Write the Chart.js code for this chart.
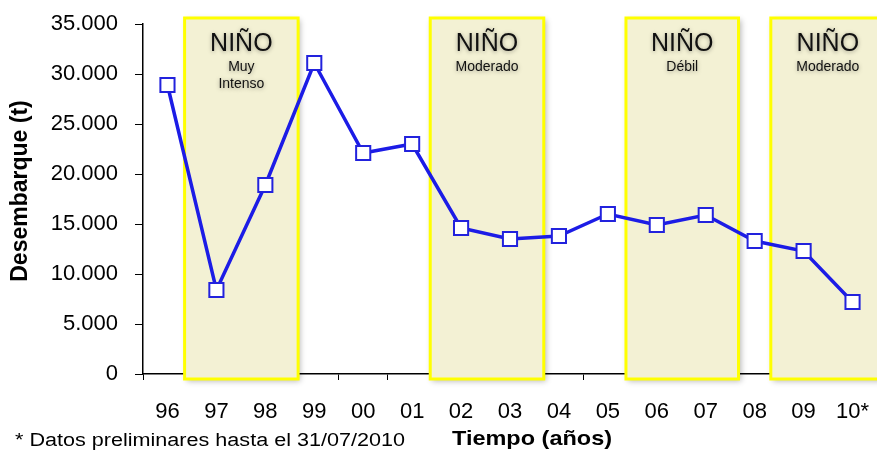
<!DOCTYPE html>
<html>
<head>
<meta charset="utf-8">
<script src="https://cdn.jsdelivr.net/npm/chart.js@4/dist/chart.umd.min.js"></script>
<style>
  html, body { margin: 0; padding: 0; background: #fff; }
  #chart { display: block; }
</style>
</head>
<body>
<canvas id="chart" width="877" height="454"></canvas>
<script>
// años (eje x) y desembarque en toneladas
const years = ['96', '97', '98', '99', '00', '01', '02', '03', '04', '05', '06', '07', '08', '09', '10*'];
const landings = [28900, 8400, 18900, 31100, 22100, 23000, 14600, 13500, 13800, 16000, 14900, 15900, 13300, 12300, 7200];
const yTicks = [0, 5000, 10000, 15000, 20000, 25000, 30000, 35000];

// periodos El Niño (en posiciones de categoria)
const ninoStart = [0.35, 5.37, 9.37, 12.33];
const ninoEnd = [2.67, 7.69, 11.67, 14.66];
const ninoTitle = ['NIÑO', 'NIÑO', 'NIÑO', 'NIÑO'];
const ninoSub = [['Muy', 'Intenso'], ['Moderado'], ['Débil'], ['Moderado']];

const fmt = v => String(v).replace(/\B(?=(\d{3})+(?!\d))/g, '.');
const FONT = '"Liberation Sans", Arial, sans-serif';

const ninoBoxes = {
    id: 'ninoBoxes',
    beforeDatasetsDraw(chart) {
        const ctx = chart.ctx;
        const x = chart.scales.x;
        const area = chart.chartArea;
        const top = area.top - 6;
        const bottom = area.bottom + 5;
        for (let i = 0; i < ninoStart.length; i++) {
            const x1 = x.getPixelForValue(ninoStart[i]);
            const x2 = x.getPixelForValue(ninoEnd[i]);
            ctx.save();
            ctx.shadowColor = 'rgba(0,0,0,0.3)';
            ctx.shadowBlur = 6;
            ctx.shadowOffsetX = 2;
            ctx.shadowOffsetY = 2;
            ctx.fillStyle = '#f3f1d4';
            ctx.fillRect(x1, top, x2 - x1, bottom - top);
            ctx.restore();
            ctx.save();
            ctx.strokeStyle = '#ffff00';
            ctx.lineWidth = 3;
            ctx.strokeRect(x1, top, x2 - x1, bottom - top);

            const cx = (x1 + x2) / 2;
            ctx.fillStyle = '#111';
            ctx.textAlign = 'center';
            ctx.textBaseline = 'middle';
            ctx.shadowColor = 'rgba(0,0,0,0.35)';
            ctx.shadowBlur = 4;
            ctx.shadowOffsetY = 1;
            ctx.font = '25px ' + FONT;
            ctx.fillText(ninoTitle[i], cx, top + 26);
            ctx.font = '14px ' + FONT;
            ninoSub[i].forEach((s, j) => ctx.fillText(s, cx, top + 49 + j * 17));
            ctx.restore();
        }
    }
};

const titles = {
    id: 'titles',
    afterDraw(chart) {
        const ctx = chart.ctx;
        ctx.save();
        ctx.fillStyle = '#000';
        ctx.textBaseline = 'middle';
        ctx.textAlign = 'center';
        ctx.font = 'bold 23px ' + FONT;
        ctx.translate(21, 191);
        ctx.rotate(-Math.PI / 2);
        ctx.fillText('Desembarque (t)', 0, 0);
        ctx.restore();

        ctx.save();
        ctx.fillStyle = '#000';
        ctx.textBaseline = 'middle';
        ctx.textAlign = 'center';
        ctx.font = 'bold 21px ' + FONT;
        const xt = 'Tiempo (años)';
        ctx.translate(532, 439);
        ctx.scale(160 / ctx.measureText(xt).width, 1);
        ctx.fillText(xt, 0, 0);
        ctx.restore();

        ctx.save();
        ctx.fillStyle = '#000';
        ctx.textBaseline = 'middle';
        ctx.textAlign = 'left';
        ctx.font = '18px ' + FONT;
        const note = '* Datos preliminares hasta el 31/07/2010';
        const w = ctx.measureText(note).width;
        ctx.translate(15, 441);
        ctx.scale(390 / w, 1);
        ctx.fillText(note, 0, 0);
        ctx.restore();
    }
};

new Chart(document.getElementById('chart'), {
    type: 'line',
    data: {
        labels: years,
        datasets: [{
            data: landings,
            borderColor: '#1c1ce6',
            borderWidth: 3.5,
            pointStyle: 'rect',
            pointRadius: 10,
            pointBorderWidth: 2,
            pointBorderColor: '#2222dd',
            pointBackgroundColor: '#fff',
            tension: 0,
            clip: false
        }]
    },
    options: {
        responsive: false,
        animation: false,
        layout: { autoPadding: false, padding: { top: 24, left: 0, right: 0, bottom: 0 } },
        plugins: { legend: { display: false }, tooltip: { enabled: false } },
        scales: {
            x: {
                offset: true,
                grid: { drawOnChartArea: false, tickLength: 6, color: '#000', offset: true },
                border: { color: '#000', width: 1.5 },
                ticks: {
                    color: '#000', padding: 19, maxRotation: 0, autoSkip: false,
                    font: { family: FONT, size: 22 }
                },
                afterFit: s => { s.height = 80; s.paddingLeft = 0; s.paddingRight = 0; }
            },
            y: {
                min: 0,
                max: 35000,
                afterBuildTicks: s => { s.ticks = yTicks.map(v => ({ value: v })); },
                grid: { drawOnChartArea: false, tickLength: 8, color: '#000' },
                border: { color: '#000', width: 1.5 },
                ticks: {
                    color: '#000', padding: 17,
                    callback: v => fmt(v),
                    font: { family: FONT, size: 22 }
                },
                afterFit: s => { s.width = 143; s.paddingTop = 0; s.paddingBottom = 0; }
            }
        }
    },
    plugins: [ninoBoxes, titles]
});
</script>
</body>
</html>
